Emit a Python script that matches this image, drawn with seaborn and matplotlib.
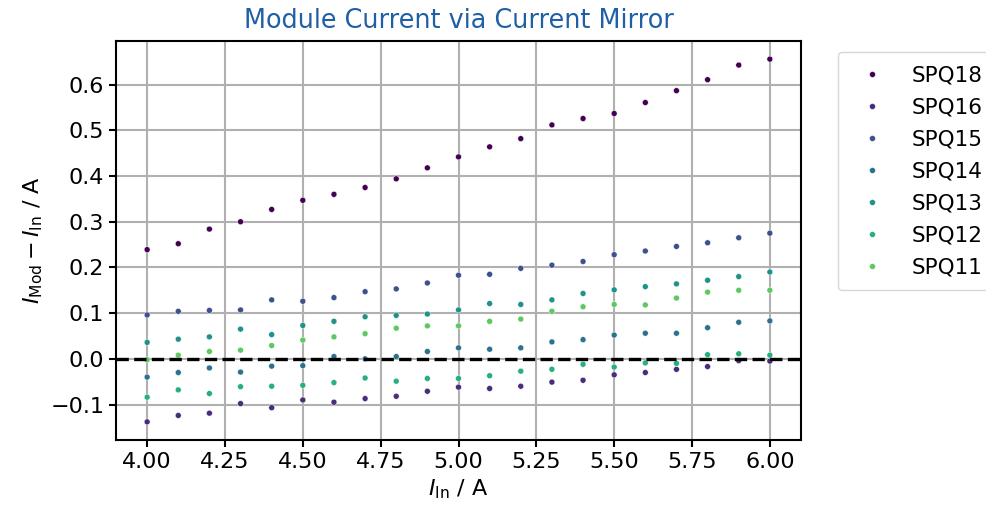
import numpy as np
import pandas as pd
import matplotlib
matplotlib.use("Agg")
import matplotlib.pyplot as plt
import seaborn as sns

# Input current sweep (A)
i_in = [4.0, 4.1, 4.2, 4.3, 4.4, 4.5, 4.6, 4.7, 4.8, 4.9, 5.0,
        5.1, 5.2, 5.3, 5.4, 5.5, 5.6, 5.7, 5.8, 5.9, 6.0]

# Module current minus input current (A) per module
spq18 = [0.239, 0.252, 0.284, 0.300, 0.327, 0.347, 0.360, 0.375, 0.394, 0.418, 0.442,
         0.464, 0.482, 0.512, 0.526, 0.537, 0.561, 0.587, 0.611, 0.643, 0.656]
spq16 = [-0.138, -0.124, -0.119, -0.098, -0.107, -0.090, -0.095, -0.087, -0.082, -0.071, -0.062,
         -0.065, -0.060, -0.051, -0.047, -0.035, -0.030, -0.023, -0.017, -0.004, -0.005]
spq15 = [0.096, 0.104, 0.106, 0.107, 0.129, 0.126, 0.134, 0.147, 0.153, 0.166, 0.183,
         0.185, 0.198, 0.205, 0.213, 0.228, 0.236, 0.246, 0.254, 0.265, 0.275]
spq14 = [-0.040, -0.030, -0.020, -0.029, -0.016, -0.015, 0.005, 0.000, 0.005, 0.016, 0.024,
         0.021, 0.024, 0.037, 0.042, 0.052, 0.056, 0.056, 0.068, 0.080, 0.083]
spq13 = [0.036, 0.043, 0.048, 0.065, 0.053, 0.073, 0.082, 0.092, 0.095, 0.098, 0.107,
         0.121, 0.119, 0.129, 0.143, 0.151, 0.158, 0.164, 0.172, 0.180, 0.190]
spq12 = [-0.084, -0.068, -0.076, -0.061, -0.060, -0.058, -0.052, -0.042, -0.049, -0.043, -0.043,
         -0.037, -0.027, -0.023, -0.012, -0.018, -0.009, -0.010, 0.009, 0.011, 0.008]
spq11 = [-0.002, 0.008, 0.016, 0.019, 0.029, 0.041, 0.048, 0.055, 0.067, 0.072, 0.072,
         0.082, 0.087, 0.104, 0.114, 0.119, 0.118, 0.133, 0.146, 0.150, 0.150]

modules = ["SPQ18", "SPQ16", "SPQ15", "SPQ14", "SPQ13", "SPQ12", "SPQ11"]
series = [spq18, spq16, spq15, spq14, spq13, spq12, spq11]

df = pd.concat(
    [pd.DataFrame({"I_in": i_in, "delta": vals, "module": name})
     for name, vals in zip(modules, series)],
    ignore_index=True,
)

cmap = matplotlib.colormaps["viridis"]
palette = [cmap(k / 8) for k in range(len(modules))]

plt.rcParams["font.family"] = ["DejaVu Sans"]
plt.rcParams["font.size"] = 16

fig = plt.figure(figsize=(9.86, 5.08), dpi=100)
ax = fig.add_axes([116 / 986, 1 - 440 / 508, 685 / 986, 399 / 508])

sns.scatterplot(data=df, x="I_in", y="delta", hue="module", hue_order=modules,
                palette=palette, s=18, edgecolor="white", linewidth=0.3,
                ax=ax, zorder=3)

ax.axhline(0, color="black", linestyle="--", linewidth=2.4, zorder=4)

ax.grid(True, color="#b0b0b0", linewidth=1.5)
ax.set_axisbelow(True)
for spine in ax.spines.values():
    spine.set_linewidth(1.5)
ax.tick_params(width=1.5, length=5, labelsize=16)

ax.set_xticks(np.arange(4.0, 6.01, 0.25))
ax.set_yticks(np.round(np.arange(-0.1, 0.61, 0.1), 1))

ax.set_xlabel(r"$I_\mathrm{In}$ / A", fontsize=16, labelpad=4)
ax.set_ylabel(r"$I_\mathrm{Mod} - I_\mathrm{In}$ / A", fontsize=16, labelpad=4)
ax.set_title("Module Current via Current Mirror", fontsize=18.4, color="#1f5fa5", pad=9)

leg = ax.legend(loc="upper left", bbox_to_anchor=(1.054, 0.972), borderaxespad=0,
                fontsize=15.5, frameon=True, markerscale=1.0, labelspacing=0.56,
                handletextpad=0.8, borderpad=0.6)
leg.get_frame().set_edgecolor("#cccccc")

fig.savefig("out.png", dpi=100)
